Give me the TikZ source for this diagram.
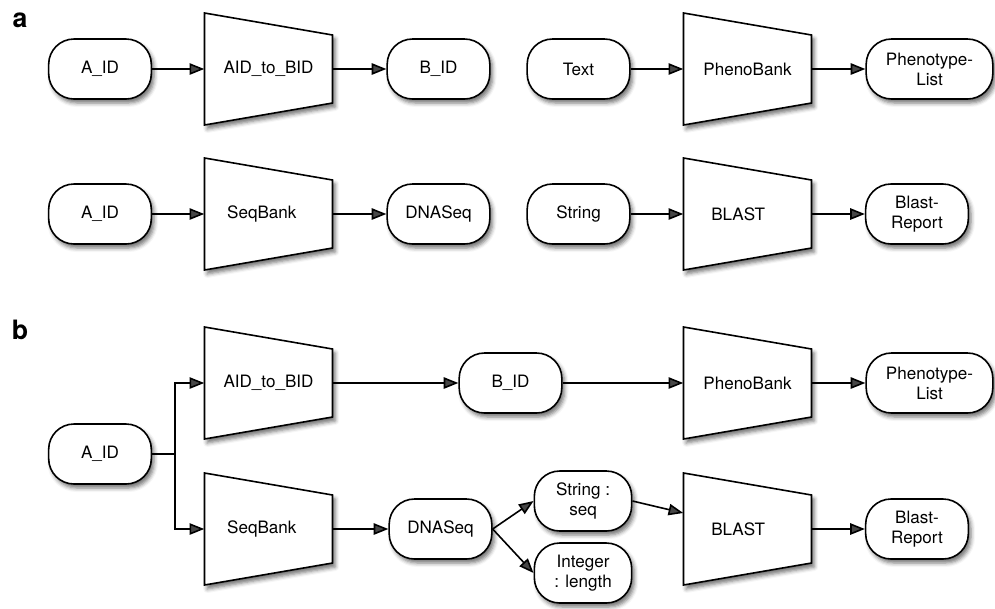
\documentclass[tikz,border=0pt]{standalone}
\usepackage{fontspec}
\setmainfont{TeX Gyre Heros}
\usetikzlibrary{arrows.meta,shadows.blur}
\tikzset{
  shad/.style={blur shadow={shadow xshift=2pt,shadow yshift=-3pt,shadow blur radius=3pt,shadow opacity=55}},
  pill/.style={draw, line width=1.2pt, fill=white, rounded corners=19pt, minimum width=77pt,
    minimum height=45pt, inner sep=1pt, align=center, font=\fontsize{12.8}{15}\selectfont, shad},
  trapbox/.style={minimum width=96pt, minimum height=84pt, inner sep=0pt, font=\fontsize{12.8}{15}\selectfont},
  trapline/.style={draw, line width=1.2pt, fill=white, line join=miter, shad},
  arr/.style={line width=1.2pt, -{Triangle[length=11pt,width=8.5pt]}},
  lab/.style={font=\bfseries\fontsize{20}{24}\selectfont, inner sep=0pt},
}
\newcommand\trapez[4]{%
  \path[trapline] (#2-64,#3-56) -- (#2+64,#3-34) -- (#2+64,#3+34) -- (#2-64,#3+56) -- cycle;
  \node[trapbox] (#1) at (#2,#3) {#4};}
\begin{document}
\begin{tikzpicture}[x=0.75pt,y=-0.75pt]
\useasboundingbox (0,0) rectangle (995,608);
% ---- a ----
\node[lab] (la) at (20,20) {a};
\node[pill] (a1) at (100,69) {A\_ID};
\trapez{a2}{268.5}{69}{AID\_to\_BID}
\node[pill] (a3) at (438.5,69) {B\_ID};
\node[pill] (a4) at (578.5,69) {Text};
\trapez{a5}{747.5}{69}{PhenoBank}
\node[pill, minimum width=95pt] (a6) at (929.5,69) {Phenotype-\\List};

\node[pill] (c1) at (100,214) {A\_ID};
\trapez{c2}{268.5}{214}{\hspace*{-10pt}SeqBank}
\node[pill] (c3) at (438.5,214) {DNASeq};
\node[pill] (c4) at (578.5,214) {String};
\trapez{c5}{747.5}{214}{\hspace*{-14pt}BLAST}
\node[pill] (c6) at (917,214) {Blast-\\Report};

\draw[arr] (a1) -- (a2);
\draw[arr] (a2) -- (a3);
\draw[arr] (a4) -- (a5);
\draw[arr] (a5) -- (a6);
\draw[arr] (c1) -- (c2);
\draw[arr] (c2) -- (c3);
\draw[arr] (c4) -- (c5);
\draw[arr] (c5) -- (c6);

% ---- b ----
\node[lab] (lb) at (20,330) {b};
\node[pill] (b1) at (100,454) {A\_ID};
\coordinate (fork) at (175,454);
\trapez{b2}{268.5}{383}{AID\_to\_BID}
\trapez{b3}{268.5}{529}{\hspace*{-10pt}SeqBank}
\node[pill] (b4) at (510.5,383) {B\_ID};
\node[pill] (b5) at (440.5,529) {DNASeq};
\node[pill, minimum width=73pt] (b6) at (583,501) {String :\\seq};
\node[pill, minimum width=73pt] (b7) at (583,573) {Integer\\: length};
\trapez{b8}{747.5}{383}{PhenoBank}
\trapez{b9}{747.5}{529}{\hspace*{-14pt}BLAST}
\node[pill, minimum width=95pt] (b10) at (929.5,383) {Phenotype-\\List};
\node[pill] (b11) at (917,529) {Blast-\\Report};

\draw[line width=1.2pt] (b1) -- (fork);
\draw[arr] (fork) |- (b2);
\draw[arr] (fork) |- (b3);
\draw[arr] (b2) -- (b4);
\draw[arr] (b4) -- (b8);
\draw[arr] (b8) -- (b10);
\draw[arr] (b3) -- (b5);
\draw[arr] (b5.east) -- (b6.west);
\draw[arr] (b5.east) -- (b7.west);
\draw[arr] (b6.east) -- ([yshift=12pt]b9.west);
\draw[arr] (b9) -- (b11);
\end{tikzpicture}
\end{document}
